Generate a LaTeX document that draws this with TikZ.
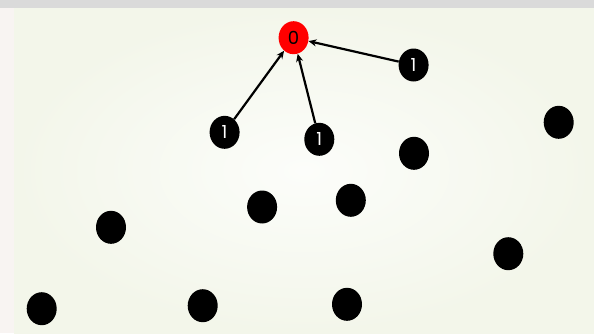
\documentclass[tikz,border=0pt]{standalone}
\usepackage{fontspec}
\setmainfont{Poppins}
\usetikzlibrary{arrows.meta,shapes.geometric}
\definecolor{topgray}{HTML}{DADADA}
\definecolor{leftbg}{HTML}{F8F4F2}
\definecolor{panelout}{HTML}{F3F6EA}
\definecolor{panelin}{HTML}{FCFDFA}
\begin{document}
\begin{tikzpicture}[x=1pt,y=-1pt,
  vert/.style={ellipse, minimum width=30pt, minimum height=33pt, inner sep=0pt, fill=black, text=white, font=\fontsize{18}{18}\selectfont},
  root/.style={vert, fill=red, text=black},
  edge/.style={line width=2.2pt, -{Stealth[length=8pt,width=7pt]}, shorten >=0pt}]
\useasboundingbox (0,0) rectangle (594,333);
\fill[leftbg] (0,0) rectangle (594,333);
\fill[topgray] (0,0) rectangle (594,8);
\shade[inner color=panelin, outer color=panelout] (14,8) rectangle (594,333);
\node[root] (r) at (293.6,37.7) {0};
\node[vert] (a) at (413.6,65) {1};
\node[vert] (b) at (224.6,132.3) {1};
\node[vert] (c) at (319.3,139.3) {1};
\node[vert] (d) at (558.7,122.3) {};
\node[vert] (e) at (414,153.3) {};
\node[vert] (f) at (262.1,207) {};
\node[vert] (g) at (350.8,200.3) {};
\node[vert] (h) at (111,227.3) {};
\node[vert] (i) at (508.3,253.7) {};
\node[vert] (j) at (41.7,308.7) {};
\node[vert] (k) at (202.7,305.7) {};
\node[vert] (l) at (347,304.3) {};
\draw[edge] (a) -- (r);
\draw[edge] (b) -- (r);
\draw[edge] (c) -- (r);
\end{tikzpicture}
\end{document}
